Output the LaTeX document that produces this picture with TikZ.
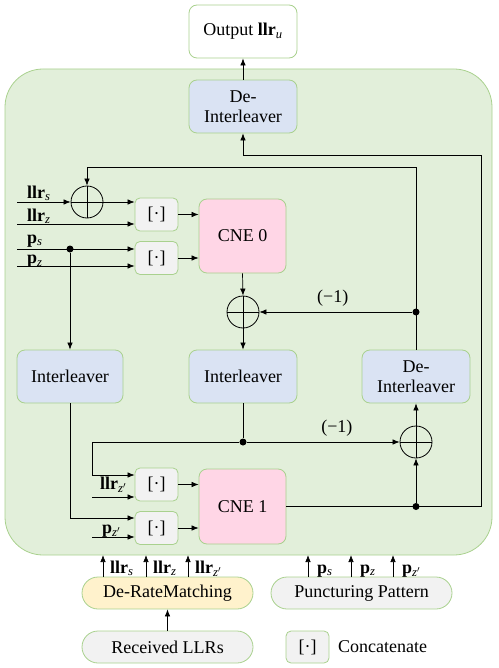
\documentclass[tikz,border=0pt]{standalone}
\usepackage{fontspec}
\setmainfont{Liberation Serif}
\usetikzlibrary{arrows.meta,calc}
\definecolor{cfill}{RGB}{226,239,218}
\definecolor{gborder}{RGB}{169,209,142}
\definecolor{bfill}{RGB}{218,227,243}
\definecolor{pfill}{RGB}{255,214,230}
\definecolor{gfill}{RGB}{242,242,242}
\definecolor{yfill}{RGB}{255,242,204}
\newcommand{\LLRv}[1]{\textbf{llr}\textsubscript{\itshape #1}}
\newcommand{\Pv}[1]{\textbf{p}\textsubscript{\itshape #1}}
\begin{document}
\begin{tikzpicture}[x=1pt,y=-1pt,
  font=\fontsize{18}{20}\selectfont,
  blk/.style={draw=gborder, line width=0.8pt, rounded corners=8pt, inner sep=0pt, align=center, text=black},
  bluebox/.style={blk, fill=bfill, minimum width=108pt, minimum height=53pt},
  catbox/.style={blk, fill=gfill, minimum width=43pt, minimum height=33pt, rounded corners=5pt},
  cnebox/.style={blk, fill=pfill, minimum width=87pt, minimum height=75pt},
  pill/.style={draw=gborder, line width=0.8pt, rounded corners=16pt, minimum height=32pt, inner sep=0pt},
  arr/.style={-{Latex[length=7pt,width=5.5pt]}, line width=0.7pt},
  ln/.style={line width=0.7pt},
  sumn/.style={circle, draw, line width=0.8pt, minimum size=32pt, inner sep=0pt,
    path picture={\draw[line width=0.8pt] (path picture bounding box.north) -- (path picture bounding box.south)
      (path picture bounding box.west) -- (path picture bounding box.east);}},
  dotn/.style={circle, fill, inner sep=0pt, minimum size=7pt},
  lab/.style={inner sep=0pt, anchor=base west}
]
\useasboundingbox (0,0) rectangle (498,668);
% container
\draw[draw=gborder, fill=cfill, line width=0.8pt, rounded corners=38pt] (5,69) rectangle (492,555);

% nodes
\node[blk, fill=white, minimum width=108pt, minimum height=53pt] (out) at (243,31.5) {Output \LLRv{u}};
\node[bluebox] (dtop) at (243,106.5) {De-\\Interleaver};
\node[sumn] (sum1) at (87,202) {};
\node[catbox] (c1) at (156.5,214.5) {[·]};
\node[catbox] (c2) at (156.5,258) {[·]};
\node[cnebox, minimum height=74pt] (cne0) at (242.5,236) {CNE 0};
\node[sumn] (sum2) at (243,312) {};
\node[bluebox, minimum width=106pt] (il1) at (70,376.5) {Interleaver};
\node[bluebox] (il2) at (243,376.5) {Interleaver};
\node[bluebox] (dil) at (416,376.5) {De-\\Interleaver};
\node[sumn] (sum3) at (416,442) {};
\node[catbox] (c3) at (156.5,484.5) {[·]};
\node[catbox] (c4) at (156.5,528) {[·]};
\node[cnebox] (cne1) at (242.5,506.5) {CNE 1};

\node[pill, fill=yfill, minimum width=171pt] (drm) at (167.5,593) {De-RateMatching};
\node[pill, fill=gfill, minimum width=181pt] (pp) at (361.5,593) {Puncturing Pattern};
\node[pill, fill=gfill, minimum width=171pt] (rx) at (167.5,647) {Received LLRs};
\node[catbox, minimum height=32pt] (leg) at (307.5,647) {[·]};
\node[inner sep=0pt, anchor=west] (legt) at (338,647) {Concatenate};

% dots
\node[dotn] (d1) at (243,442) {};
\node[dotn] (d2) at (416,312) {};
\node[dotn] (d3) at (416,506.5) {};
\node[dotn] (dp) at (70,249) {};

% coordinates
\coordinate (cR) at (481,155);
\coordinate (cT) at (87,167);
\coordinate (cL) at (92,442);
\coordinate (inLs) at (17,202);
\coordinate (inLz) at (17,224);
\coordinate (inPs) at (17,249);
\coordinate (inPz) at (17,266);
\coordinate (inLzp) at (92,497);
\coordinate (inPzp) at (92,537);

% connectors
\draw[arr] (dtop) -- (out);
\draw[arr] (cne1.east) -| (cR) -| (dtop.south);
\draw[arr] (d3) -- (sum3.south);
\draw[arr] (sum3.north) -- (dil.south);
\draw[arr] (dil.north) |- (cT) -- (sum1.north);
\draw[arr] (d2) -- (sum2.east) node[pos=0.52, anchor=south, inner sep=0pt, yshift=5pt] {(−1)};
\draw[arr] (cne0.south) -- (sum2.north);
\draw[arr] (sum2.south) -- (il2.north);
\draw[ln] (il2.south) -- (d1);
\draw[arr] (d1) -- (sum3.west) node[pos=0.59, anchor=south, inner sep=0pt, yshift=5pt] {(−1)};
\draw[arr] (d1) -- (cL) |- ($(c3.west)+(0,-9.5)$);
\draw[arr] (inLzp) -- ($(c3.west)+(0,12.5)$);
\draw[arr] (inPzp) -- ($(c4.west)+(0,9)$);
\draw[arr] (dp) -- (il1.north);
\draw[arr] (il1.south) |- ($(c4.west)+(0,-10)$);

\draw[arr] (inLs) -- (sum1.west);
\draw[arr] (sum1.east) -- ($(c1.west)+(0,-12.5)$);
\draw[arr] (inLz) -- ($(c1.west)+(0,9.5)$);
\draw[arr] (inPs) -- ($(c2.west)+(0,-9)$);
\draw[arr] (inPz) -- ($(c2.west)+(0,8)$);

\draw[arr] (c1.east) -- (c1.east -| cne0.west);
\draw[arr] (c2.east) -- (c2.east -| cne0.west);
\draw[arr] (c3.east) -- (c3.east -| cne1.west);
\draw[arr] (c4.east) -- (c4.east -| cne1.west);

\draw[arr] (rx) -- (drm);

% left input labels
\node[lab] at (27,198) {\LLRv{s}};
\node[lab] at (27,221) {\LLRv{z}};
\node[lab] at (27,243) {\Pv{s}};
\node[lab] at (27,263.5) {\Pv{z}};
\node[lab] at (100,489) {\LLRv{z$'$}};
\node[lab] at (102,533) {\Pv{z$'$}};

% bottom arrows
\foreach \xx/\tt in {103/s,146/z,188/z$'$}{
  \coordinate (ba) at (\xx,577);
  \coordinate (bb) at (\xx,555);
  \draw[arr] (ba) -- (bb);
  \node[lab] at (\xx+7,573) {\LLRv{\tt}};
}
\foreach \xx/\tt in {308/s,351/z,393/z$'$}{
  \coordinate (ba) at (\xx,577);
  \coordinate (bb) at (\xx,555);
  \draw[arr] (ba) -- (bb);
  \node[lab] at (\xx+9,573) {\Pv{\tt}};
}
\end{tikzpicture}
\end{document}
